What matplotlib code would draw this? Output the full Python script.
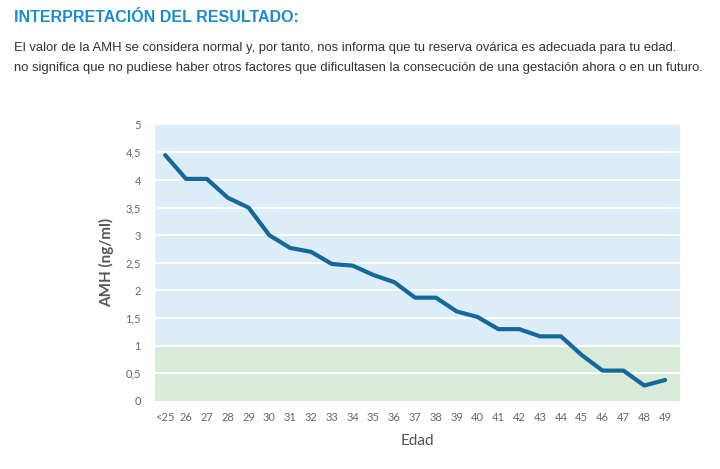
import matplotlib
matplotlib.use('Agg')
import matplotlib.pyplot as plt

# datos
edades = ['<25', '26', '27', '28', '29', '30', '31', '32', '33', '34', '35', '36', '37',
          '38', '39', '40', '41', '42', '43', '44', '45', '46', '47', '48', '49']
amh = [4.45, 4.02, 4.02, 3.68, 3.5, 3.0, 2.77, 2.7, 2.48, 2.45, 2.28, 2.15, 1.87,
       1.87, 1.62, 1.52, 1.3, 1.3, 1.17, 1.17, 0.83, 0.55, 0.55, 0.28, 0.38]
yticks = [0, 0.5, 1, 1.5, 2, 2.5, 3, 3.5, 4, 4.5, 5]
ylabels = ['0', '0,5', '1', '1,5', '2', '2,5', '3', '3,5', '4', '4,5', '5']

plt.rcParams['font.family'] = ['Lato', 'DejaVu Sans']

fig = plt.figure(figsize=(7.2, 4.69), dpi=100)
fig.patch.set_facecolor('white')

# cabecera de texto
fig.text(0.019, 0.962, 'INTERPRETACIÓN DEL RESULTADO:', color='#1b8ccb', fontsize=11.5,
         fontweight='bold', family='Liberation Sans', va='center')
fig.text(0.019, 0.897, 'El valor de la AMH se considera normal y, por tanto, nos informa que tu reserva ovárica es adecuada para tu edad.',
         color='#333333', fontsize=9.4, family='Liberation Sans', va='center')
fig.text(0.019, 0.855, 'no significa que no pudiese haber otros factores que dificultasen la consecución de una gestación ahora o en un futuro.',
         color='#333333', fontsize=9.4, family='Liberation Sans', va='center')

ax = fig.add_axes([0.215, 0.145, 0.729, 0.589])
x = list(range(len(edades)))
ax.set_xlim(-0.5, 24.7)
ax.set_ylim(0, 5)
ax.axhspan(1, 5, color='#dcedf8', zorder=0, lw=0)
ax.axhspan(0, 1, color='#d8ebd8', zorder=0, lw=0)
for v in yticks[1:-1]:
    ax.axhline(v, color='white', lw=1.5, zorder=1)

ax.plot(x, amh, color='#13699b', lw=3, zorder=3, solid_joinstyle='round', solid_capstyle='round')

for s in ax.spines.values():
    s.set_visible(False)
ax.set_xticks(x)
ax.set_xticklabels(edades, fontsize=8, color='#666666')
ax.set_yticks(yticks)
ax.set_yticklabels(ylabels, fontsize=8, color='#666666')
ax.tick_params(length=0, pad=10)
ax.tick_params(axis='x', pad=8)
ax.set_ylabel('AMH (ng/ml)', fontsize=11, color='#555555', fontweight='bold', labelpad=8)
ax.set_xlabel('Edad', fontsize=11, color='#555555', labelpad=8)

plt.savefig('out.png', dpi=100)
